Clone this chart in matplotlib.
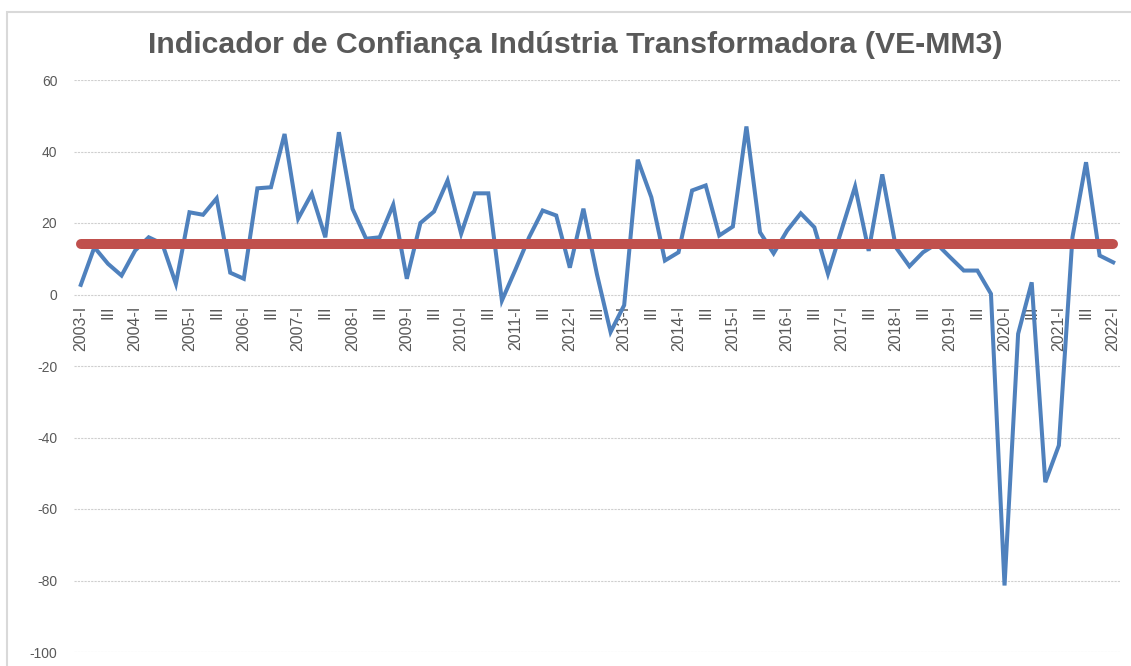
import matplotlib
matplotlib.use("Agg")
import matplotlib.pyplot as plt
from matplotlib.patches import Rectangle

# ---- data ----
years = list(range(2003, 2023))
quarters = [f"{y}-{q}" for y in years for q in ["I", "II", "III", "IV"]][:77]
values = [2.7, 13.2, 8.6, 5.3,
          12.3, 16.0, 14.2, 3.0,
          23.0, 22.3, 26.9, 6.1,
          4.4, 29.7, 30.0, 44.9,
          21.2, 28.2, 16.0, 45.4,
          24.0, 15.6, 16.0, 25.1,
          4.4, 20.0, 23.2, 31.9,
          17.0, 28.3, 28.3, -1.7,
          7.0, 16.0, 23.5, 22.1,
          7.5, 24.0, 5.6, -10.5,
          -3.0, 37.7, 27.2, 9.5,
          11.8, 29.1, 30.5, 16.5,
          19.0, 47.0, 17.4, 11.5,
          17.9, 22.7, 18.8, 5.8,
          18.0, 30.2, 12.2, 33.6,
          13.2, 7.9, 11.8, 14.2,
          10.4, 6.7, 6.7, 0.2,
          -81.4, -11.0, 3.4, -52.5,
          -42.2, 16.0, 37.0, 10.9,
          9.0]
media = 14.0
tick_labels = [(q if q.endswith("-I") else "III") for q in quarters[::2]]
yticks = [-100, -80, -60, -40, -20, 0, 20, 40, 60]
title = "Indicador de Confiança Indústria Transformadora (VE-MM3)"

# ---- figure ----
fig = plt.figure(figsize=(11.31, 6.66), dpi=100)
fig.patches.append(Rectangle((7 / 1131, -0.1), 1.2, 1 - 12 / 666 + 0.1,
                             transform=fig.transFigure, fill=False,
                             edgecolor="#d9d9d9", linewidth=1.5))
ax = fig.add_axes([74 / 1131, 1 - 652 / 666, (1120 - 74) / 1131, (652 - 80) / 666])
ax.spines["bottom"].set_position(("data", 0))
for s in ["top", "right", "left", "bottom"]:
    ax.spines[s].set_visible(False)

x = list(range(len(values)))
ax.plot(x, values, color="#4F81BD", linewidth=2.9, solid_joinstyle="miter", zorder=3)
ax.hlines(media, x[0], x[-1], color="#C0504D", linewidth=7.2, capstyle="round", zorder=4)

ax.set_xlim(-0.5, len(values) - 0.5)
ax.set_ylim(-100, 60)
ax.set_yticks(yticks)
ax.set_yticklabels([str(v) for v in yticks], fontsize=10, color="#595959",
                   family=["Liberation Sans", "DejaVu Sans"])
ax.tick_params(axis="y", length=0, pad=12)
ax.set_xticks(x[::2])
ax.set_xticklabels(tick_labels, rotation=90, fontsize=11.5, color="#595959",
                   family=["Liberation Sans", "DejaVu Sans"], va="top", ha="center")
ax.tick_params(axis="x", length=0, pad=8)
ax.grid(axis="y", color="#cfcfcf", linestyle=(0, (2, 1)), linewidth=0.8)
ax.set_axisbelow(True)

fig.text(0.5 * (148 + 1003) / 1131, 1 - 45 / 666, title, ha="center", va="center",
         fontsize=21.8, fontweight="bold", color="#595959",
         family=["Liberation Sans", "DejaVu Sans"])

fig.savefig("out.png", dpi=100)
